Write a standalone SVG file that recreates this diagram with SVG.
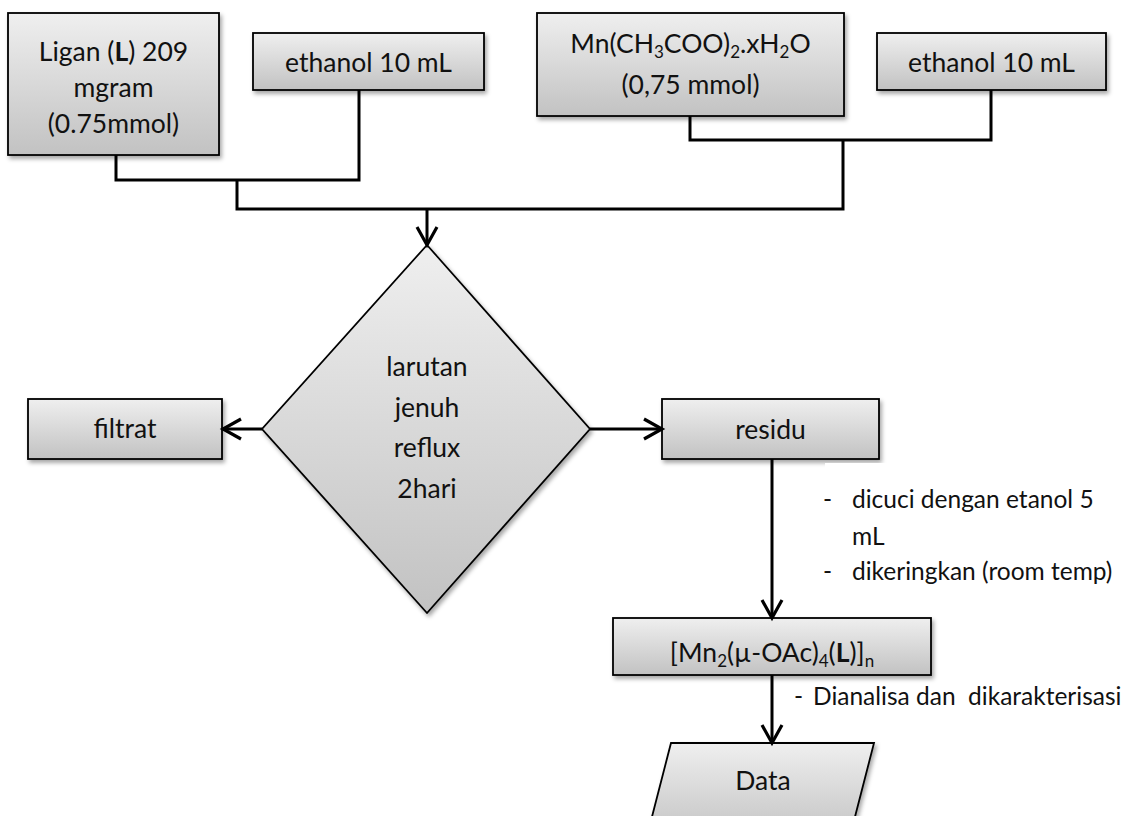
<svg xmlns="http://www.w3.org/2000/svg" width="1126" height="816" viewBox="0 0 1126 816">
<defs>
<linearGradient id="g" x1="0" y1="0" x2="0" y2="1">
<stop offset="0" stop-color="#efefef"/>
<stop offset="1" stop-color="#c2c2c2"/>
</linearGradient>
<filter id="sh" x="-10%" y="-10%" width="130%" height="140%">
<feDropShadow dx="2" dy="3" stdDeviation="2" flood-color="#000" flood-opacity="0.35"/>
</filter>
<marker id="ar" viewBox="0 0 24 24" refX="20" refY="12" markerWidth="24" markerHeight="24" markerUnits="userSpaceOnUse" orient="auto">
<path d="M2 2 L20 12 L2 22" fill="none" stroke="#000" stroke-width="3.2" stroke-linejoin="miter"/>
</marker>
</defs>
<style>
.box{fill:url(#g);stroke:#000;stroke-width:1.8;filter:url(#sh)}
.t{font-family:Lato,"Open Sans","Liberation Sans",sans-serif;font-size:26.5px;fill:#111;text-anchor:middle}
.a{font-family:Lato,"Open Sans","Liberation Sans",sans-serif;font-size:24.5px;fill:#111;white-space:pre}
.c{fill:none;stroke:#000;stroke-width:3}
.b{font-weight:bold}
</style>
<rect width="1126" height="816" fill="#fff"/>

<g id="ligan">
<rect class="box" x="8" y="13" width="211" height="142"/>
<text class="t" x="113.5" y="61">Ligan (<tspan class="b">L</tspan>) 209</text>
<text class="t" x="113.5" y="97">mgram</text>
<text class="t" x="113.5" y="133">(0.75mmol)</text>
</g>

<g id="ethanol1">
<rect class="box" x="253" y="33" width="231" height="57"/>
<text class="t" x="368.5" y="72">ethanol 10 mL</text>
</g>

<g id="mnacetate">
<rect class="box" x="537" y="13" width="307" height="103"/>
<text class="t" x="690.5" y="53">Mn(CH<tspan font-size="17" dy="5">3</tspan><tspan dy="-5">COO)</tspan><tspan font-size="17" dy="5">2</tspan><tspan dy="-5">.xH</tspan><tspan font-size="17" dy="5">2</tspan><tspan dy="-5">O</tspan></text>
<text class="t" x="690.5" y="94">(0,75 mmol)</text>
</g>

<g id="ethanol2">
<rect class="box" x="877" y="33" width="229" height="57"/>
<text class="t" x="991.5" y="72">ethanol 10 mL</text>
</g>

<g id="reflux">
<polygon class="box" points="427,245 590,429 427,613 262,429"/>
<text class="t" x="427" y="376">larutan</text>
<text class="t" x="427" y="417">jenuh</text>
<text class="t" x="427" y="457">reflux</text>
<text class="t" x="427" y="498">2hari</text>
</g>

<g id="filtrat">
<rect class="box" x="28" y="399" width="194" height="60"/>
<text class="t" x="125" y="438">filtrat</text>
</g>

<g id="residu">
<rect class="box" x="662" y="399" width="217" height="60"/>
<text class="t" x="770.5" y="439">residu</text>
</g>

<g id="note1">
<rect x="825" y="463" width="301" height="124" fill="#fff"/>
<text class="a" x="823" y="508">-</text>
<text class="a" x="852" y="508">dicuci dengan etanol 5</text>
<text class="a" x="852" y="545">mL</text>
<text class="a" x="823" y="580">-</text>
<text class="a" x="852" y="580">dikeringkan (room temp)</text>
</g>

<g id="product">
<rect class="box" x="613" y="618" width="318" height="57"/>
<text class="t" x="772" y="662">[Mn<tspan font-size="17" dy="5">2</tspan><tspan dy="-5">(µ-OAc)</tspan><tspan font-size="17" dy="5">4</tspan><tspan dy="-5">(</tspan><tspan class="b">L</tspan>)]<tspan font-size="17" dy="5">n</tspan></text>
</g>

<g id="note2">
<text class="a" x="794" y="705">-</text>
<text class="a" x="813" y="705">Dianalisa dan&#160; dikarakterisasi</text>
</g>

<g id="data">
<polygon class="box" points="671,743 874,743 849,840 646,840"/>
<text class="t" x="763" y="790">Data</text>
</g>

<g id="connectors">
<path class="c" d="M116 155 V180 H359 V90"/>
<path class="c" d="M690 116 V140 H991 V90"/>
<path class="c" d="M237 180 V209 H843 V140"/>
<path class="c" d="M427 209 V245" marker-end="url(#ar)"/>
<path class="c" d="M262 429 H223" marker-end="url(#ar)"/>
<path class="c" d="M590 429 H662" marker-end="url(#ar)"/>
<path class="c" d="M772 459 V618" marker-end="url(#ar)"/>
<path class="c" d="M772 675 V743" marker-end="url(#ar)"/>
</g>
</svg>
